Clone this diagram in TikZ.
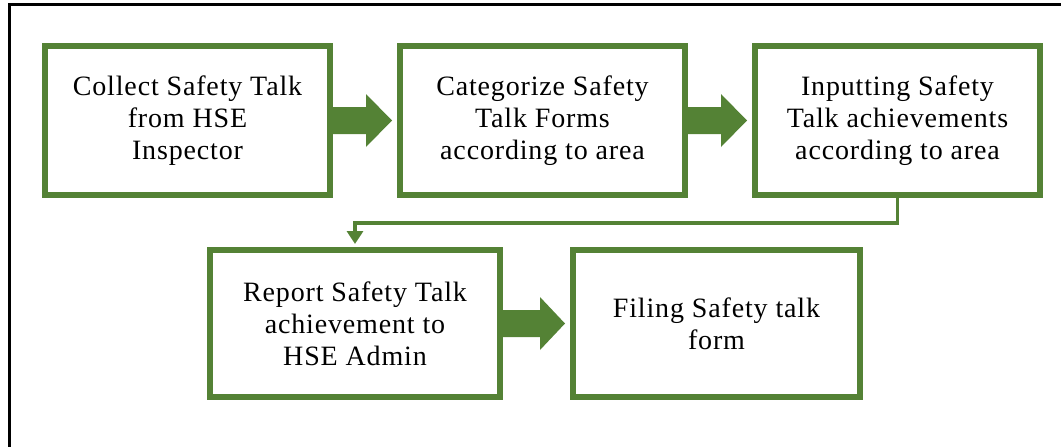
\documentclass[tikz,border=0pt]{standalone}
\usepackage{fontspec}
\setmainfont{Liberation Serif}[LetterSpace=3.0]
\usetikzlibrary{calc,arrows.meta}
\definecolor{leaf}{HTML}{548235}
\tikzset{
  stepbox/.style={draw=leaf, line width=6pt, fill=white, inner sep=0pt,
    minimum width=285pt, minimum height=149pt, align=center,
    font=\fontsize{28}{32}\selectfont},
  frameline/.style={draw=black, line width=3pt},
  link/.style={draw=leaf, line width=3.5pt,
    -{Triangle[width=16pt,length=13pt]}},
}
% block arrow from the east side of #1 to the west side of #2
\newcommand{\blockarrow}[3]{%
  \fill[leaf] ($(#1.east)+(0,13.5)$) -- ($(#1.east)+(#3,13.5)$)
    -- ($(#1.east)+(#3,26.5)$) -- ($(#2.west)+(-5,0)$)
    -- ($(#1.east)+(#3,-26.5)$) -- ($(#1.east)+(#3,-13.5)$)
    -- ($(#1.east)+(0,-13.5)$) -- cycle;}
\begin{document}
\begin{tikzpicture}[x=1pt,y=-1pt]
  \useasboundingbox (0,0) rectangle (1061,447);
  % outer frame (left and top edges)
  \draw[frameline] (9,460) -- (9,4.5) -- (1075,4.5);

  % upper row
  \node[stepbox] (b1) at (187.5,120.5) {Collect Safety Talk\\from HSE\\Inspector};
  \node[stepbox] (b2) at (542.5,120.5) {Categorize Safety\\Talk Forms\\according to area};
  \node[stepbox, minimum width=285pt] (b3) at (897.5,120.5) {Inputting Safety\\Talk achievements\\according to area};

  % lower row
  \node[stepbox, minimum width=290pt, minimum height=147pt] (b4) at (355,323.5) {Report Safety Talk\\achievement to\\HSE Admin};
  \node[stepbox, minimum width=287pt, minimum height=147pt] (b5) at (716.5,323.5) {Filing Safety talk\\form};

  % block arrows
  \blockarrow{b1}{b2}{33}
  \blockarrow{b2}{b3}{33}
  \blockarrow{b4}{b5}{37}

  % turn-back connector from the third step to the fourth
  \coordinate (bendA) at ($(b3.south)+(0,25)$);
  \draw[link] (b3.south) -- (bendA) -| ($(b4.north)+(0,-3)$);
\end{tikzpicture}
\end{document}
